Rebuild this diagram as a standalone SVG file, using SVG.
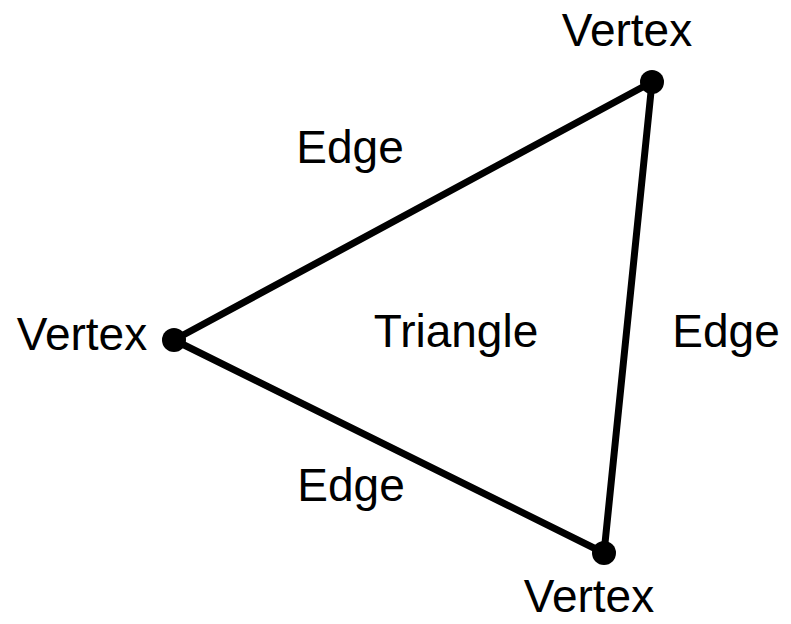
<svg xmlns="http://www.w3.org/2000/svg" width="791" height="624" viewBox="0 0 791 624">
<style>
.lbl{font-family:"Liberation Sans",Arial,sans-serif;font-size:46px;fill:#000;text-anchor:middle}
.edge{stroke:#000;stroke-width:7;fill:none;stroke-linecap:round}
.vtx{fill:#000}
</style>
<rect width="791" height="624" fill="#fff"/>
<g id="connectors">
<line class="edge" x1="652" y1="82" x2="174" y2="340"/>
<line class="edge" x1="174" y1="340" x2="604" y2="553"/>
<line class="edge" x1="604" y1="553" x2="652" y2="82"/>
</g>
<g id="vertex-top"><circle class="vtx" cx="652" cy="82" r="12"/><text class="lbl" x="627" y="46">Vertex</text></g>
<g id="vertex-left"><circle class="vtx" cx="174" cy="340" r="12"/><text class="lbl" x="82" y="350">Vertex</text></g>
<g id="vertex-bottom"><circle class="vtx" cx="604" cy="553" r="12"/><text class="lbl" x="589" y="612">Vertex</text></g>
<g id="edge-top-label"><text class="lbl" x="350" y="163">Edge</text></g>
<g id="edge-right-label"><text class="lbl" x="726" y="347">Edge</text></g>
<g id="edge-bottom-label"><text class="lbl" x="351" y="501">Edge</text></g>
<g id="triangle-label"><text class="lbl" x="456" y="347">Triangle</text></g>
</svg>
